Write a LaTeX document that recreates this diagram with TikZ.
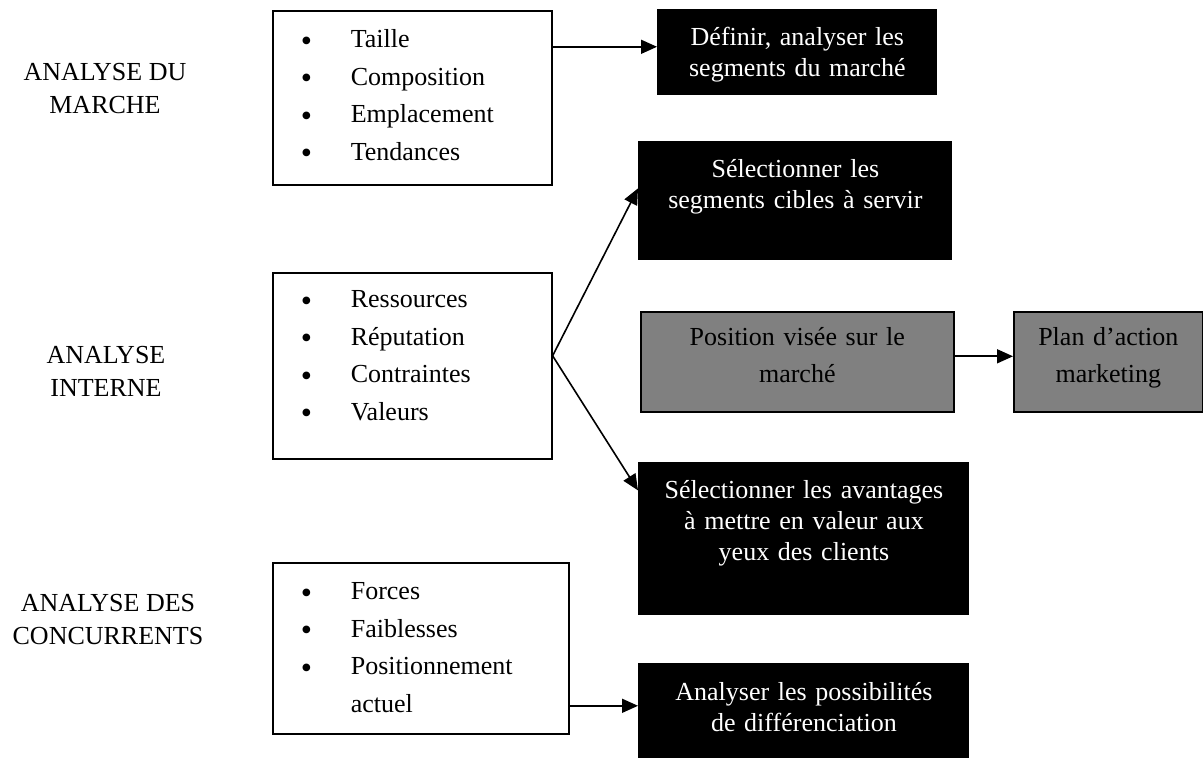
\documentclass[tikz,border=0pt]{standalone}
\usepackage{fontspec}
\setmainfont{Liberation Serif}
\usepackage{tikz}
\usetikzlibrary{arrows.meta}
\newcommand{\itm}[1]{\hspace*{14pt}\makebox[25pt][l]{\raisebox{-1.7pt}{\fontsize{16}{16}\selectfont\textbullet}}#1}
\tikzset{>={Triangle[length=8pt,width=7pt]},
	liste/.style={draw, line width=0.8pt, anchor=north west, inner sep=0pt,
		align=left, font=\fontsize{13}{18.75}\selectfont},
	noir/.style={fill=black, text=white, anchor=north west, inner sep=0pt,
		align=center, font=\fontsize{13}{15.5}\selectfont},
	gris/.style={draw, fill=gray, line width=0.8pt, anchor=north west,
		inner sep=0pt, align=center, font=\fontsize{13}{18.5}\selectfont},
	titre/.style={align=center, font=\fontsize{13}{16.5}\selectfont},
	fleche/.style={->, line width=0.8pt}}

\begin{document}
\begin{tikzpicture}[x=0.5pt, y=-0.5pt]
	\useasboundingbox (0,0) rectangle (1203,758);
	\node[titre] (tmarche) at (105,89) {ANALYSE DU\\MARCHE};
	\node[titre] (tinterne) at (106,371) {ANALYSE\\INTERNE};
	\node[titre] (tconcur) at (108,620) {ANALYSE DES\\CONCURRENTS};
	
	\node[liste, text width=139.5pt, text height=18.5pt, text depth=68.5pt]
		(marche) at (272,10)
		{\itm{Taille}\\\itm{Composition}\\\itm{Emplacement}\\\itm{Tendances}};
	\node[liste, text width=139.5pt, text height=17.5pt, text depth=75.5pt]
		(interne) at (272,272)
		{\itm{Ressources}\\\itm{Réputation}\\\itm{Contraintes}\\\itm{Valeurs}};
	\node[liste, text width=148pt, text height=18.5pt, text depth=67pt]
		(concur) at (272,562)
		{\itm{Forces}\\\itm{Faiblesses}\\\itm{Positionnement}\\\hspace*{39pt}actuel};
	
	\node[noir, text width=140pt, text height=18pt, text depth=25pt]
		(def) at (657,9) {Définir, analyser les\\segments du marché};
	\node[noir, text width=157pt, text height=18pt, text depth=41.5pt]
		(cibles) at (638,141) {Sélectionner les\\segments cibles à servir};
	\node[noir, text width=165.5pt, text height=18pt, text depth=58.5pt]
		(avant) at (638,462)
		{Sélectionner les avantages\\à mettre en valeur aux\\yeux des clients};
	\node[noir, text width=165.5pt, text height=18.5pt, text depth=29pt]
		(diff) at (638,663) {Analyser les possibilités\\de différenciation};
	
	\node[gris, text width=156.5pt, text height=17pt, text depth=33pt]
		(pos) at (640,311) {Position visée sur le\\marché};
	\node[gris, text width=94.5pt, text height=17pt, text depth=33pt]
		(plan) at (1013,311) {Plan d’action\\marketing};
	
	\coordinate (m1) at ([yshift=25.5pt]marche.east);
	\draw[fleche] (m1) -- (m1 -| def.west);
	\coordinate (i1) at ([yshift=5pt]interne.east);
	\draw[fleche] (i1) -- ([yshift=6.25pt]cibles.west);
	\draw[fleche] (i1) -- ([yshift=24.25pt]avant.west);
	\coordinate (p1) at ([yshift=2.75pt]pos.east);
	\draw[fleche] (p1) -- (p1 -| plan.west);
	\coordinate (c1) at ([yshift=-28.75pt]concur.east);
	\draw[fleche] (c1) -- (c1 -| diff.west);
\end{tikzpicture}
\end{document}
